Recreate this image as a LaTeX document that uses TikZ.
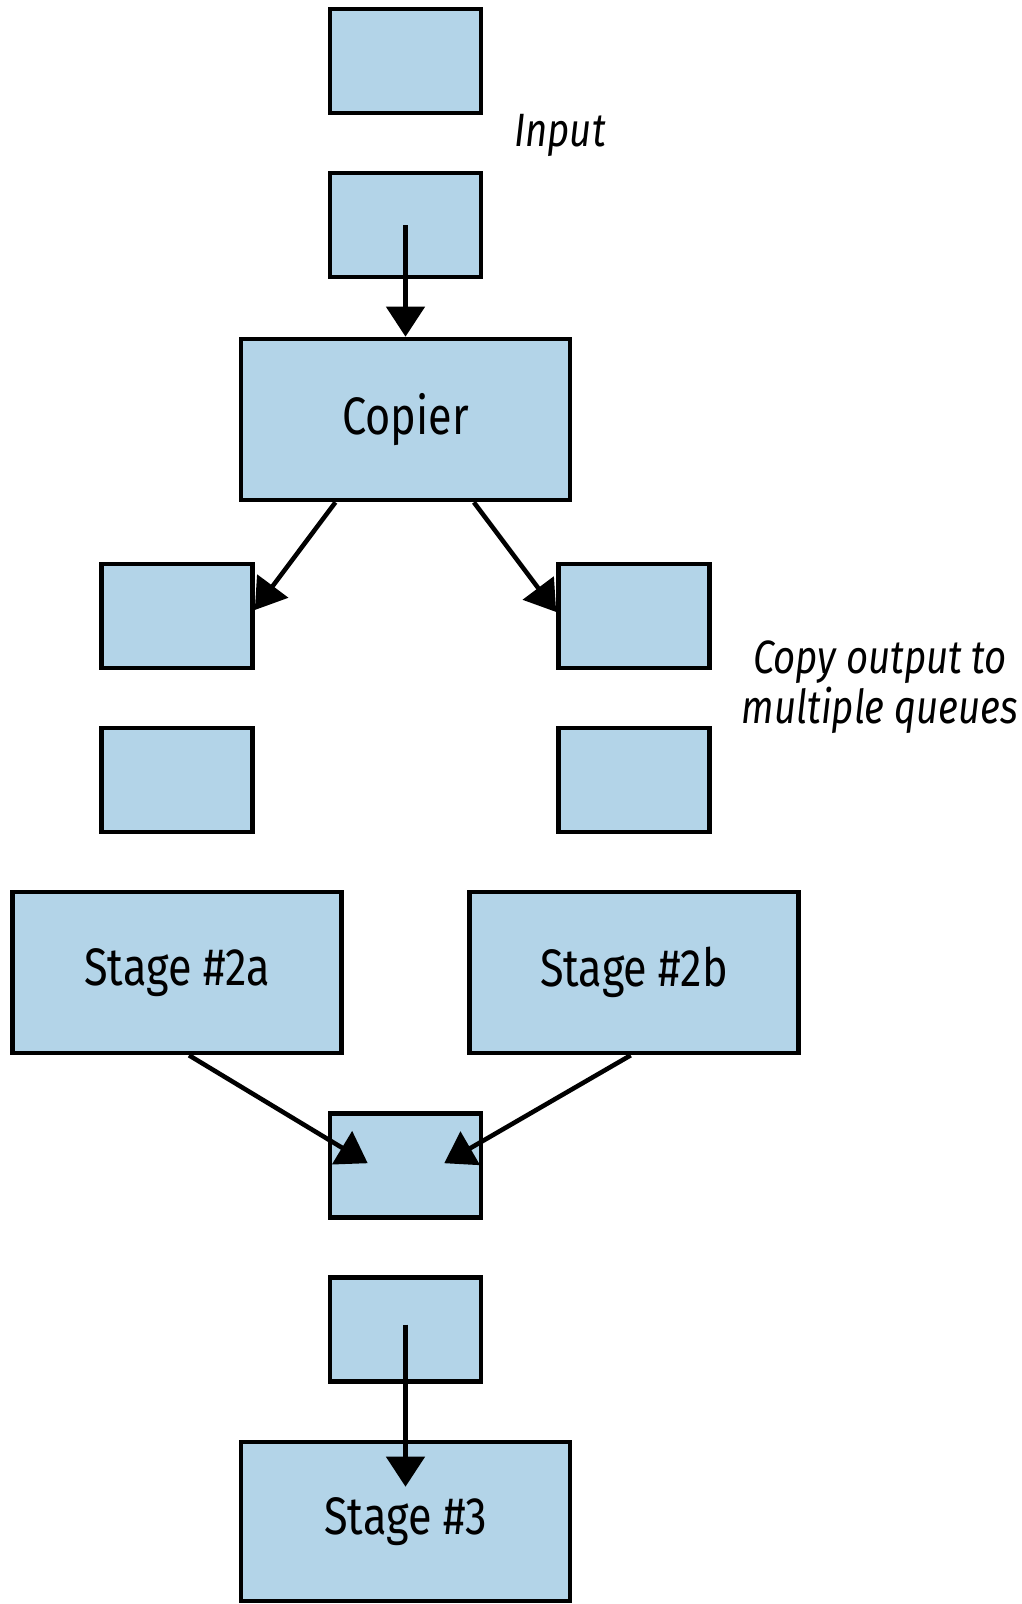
\documentclass[tikz,border=0pt]{standalone}
\usepackage{fontspec}
\setmainfont{Fira Sans}[FakeStretch=0.82]
\usepackage{tikz}
\usetikzlibrary{arrows.meta, positioning, calc}
\definecolor{qfill}{RGB}{179,212,232}

\begin{document}
\begin{tikzpicture}[
  queue/.style={draw=black, fill=qfill, line width=1.3pt,
                minimum width=1.51cm, minimum height=1.04cm, inner sep=0pt},
  stagebox/.style={draw=black, fill=qfill, line width=1.3pt,
                   minimum width=3.29cm, minimum height=1.61cm, inner sep=0pt,
                   font=\fontsize{15}{18}\selectfont},
  note/.style={font=\itshape\fontsize{13.3}{13.2}\selectfont, align=center},
  arrowstyle/.style={-{Triangle[length=3mm, width=3.8mm]}, line width=1.3pt},
]
\useasboundingbox (0,0) rectangle (10.21,-16.04);

% =================================================================
% INPUT QUEUE AND COPIER
% =================================================================
\node[queue] (in1) at (4.055, -0.61) {};
\node[queue] (in2) at (4.055, -2.25) {};
\node[note] (inlabel) at (5.60, -1.35) {Input};
\node[stagebox] (copier) at (4.055, -4.195) {Copier};

\draw[arrowstyle] (in2.center) -- (copier.north);

% =================================================================
% COPIED QUEUES
% =================================================================
\node[queue] (left1) at (1.77, -6.16) {};
\node[queue] (left2) at (1.77, -7.80) {};
\node[queue] (right1) at (6.34, -6.16) {};
\node[queue] (right2) at (6.34, -7.80) {};
\node[note] (copylabel) at (8.80, -6.87) {Copy output to\\multiple queues};

\draw[arrowstyle] ($(copier.south west)!0.29!(copier.south east)$)
  -- ($(left1.east)+(0,0.06)$);
\draw[arrowstyle] ($(copier.south west)!0.705!(copier.south east)$)
  -- ($(right1.west)+(0,0.04)$);

% =================================================================
% STAGE 2a / 2b
% =================================================================
\node[stagebox] (stagea) at (1.77, -9.725) {Stage \#2a};
\node[stagebox] (stageb) at (6.34, -9.725) {Stage \#2b};

% =================================================================
% MERGED QUEUE AND STAGE 3
% =================================================================
\node[queue] (merge1) at (4.055, -11.655) {};
\node[queue] (merge2) at (4.055, -13.295) {};
\node[stagebox, minimum height=1.59cm] (stagec) at (4.055, -15.215) {Stage \#3};

\coordinate (mergeL) at ($(merge1.north west)+(0.40,-0.52)$);
\coordinate (mergeR) at ($(merge1.north east)+(-0.39,-0.52)$);

\draw[arrowstyle] ($(stagea.south west)!0.536!(stagea.south east)$) -- (mergeL);
\draw[arrowstyle] ($(stageb.south west)!0.49!(stageb.south east)$) -- (mergeR);
\draw[arrowstyle, shorten >=-4.7mm] ($(merge2.center)+(0,0.05)$) -- (stagec.north);

\end{tikzpicture}
\end{document}
